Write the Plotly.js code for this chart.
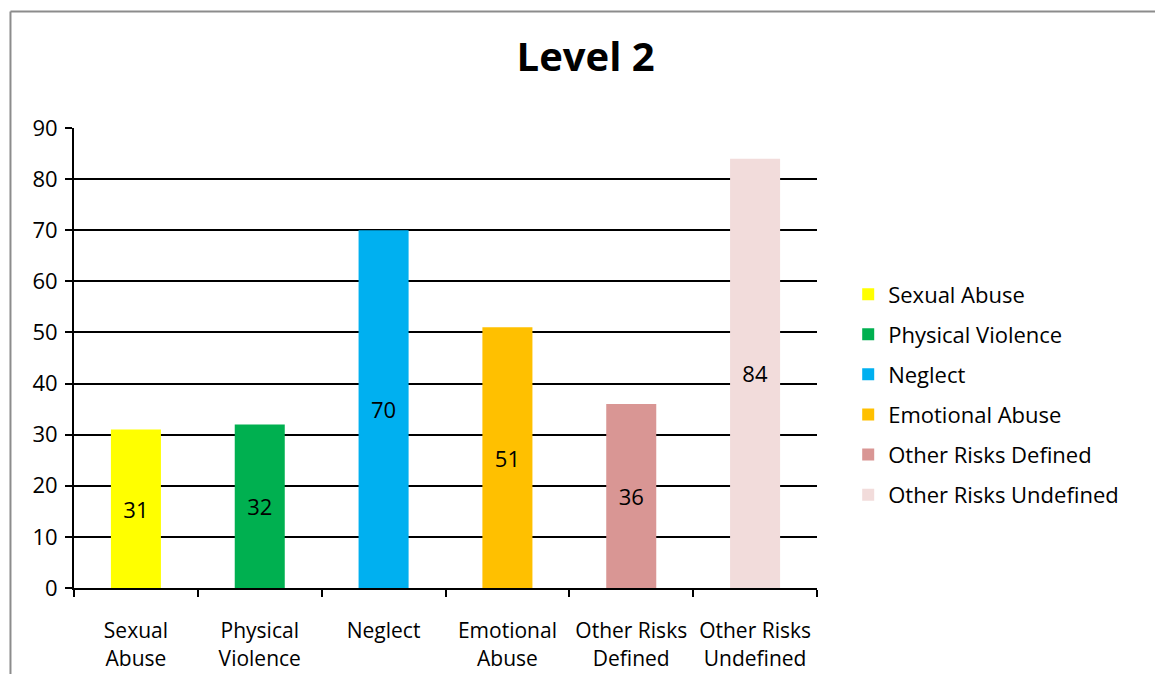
<!DOCTYPE html>
<html>
<head>
<meta charset="utf-8">
<script src="https://cdn.plot.ly/plotly-3.0.1.min.js"></script>
<style>
html,body{margin:0;padding:0;background:#fff;}
#chart{width:1155px;height:674px;}
</style>
</head>
<body>
<div id="chart"></div>
<script>
const categories = ['Sexual Abuse', 'Physical Violence', 'Neglect', 'Emotional Abuse', 'Other Risks Defined', 'Other Risks Undefined'];
const tickLabels = ['Sexual<br>Abuse', 'Physical<br>Violence', 'Neglect', 'Emotional<br>Abuse', 'Other Risks<br>Defined', 'Other Risks<br>Undefined'];
const values = [31, 32, 70, 51, 36, 84];
const colors = ['#FFFF00', '#00B050', '#00B0F0', '#FFC000', '#D99694', '#F2DCDB'];
const yTicks = [0, 10, 20, 30, 40, 50, 60, 70, 80, 90];

const FONT = 'Open Sans, Noto Sans, sans-serif';

const traces = categories.map((c, i) => ({
  type: 'bar',
  name: c,
  legendgroup: 'g' + i,
  x: [c],
  y: [values[i]],
  marker: {color: colors[i], line: {width: 0}},
  text: [String(values[i])],
  textposition: 'inside',
  insidetextanchor: 'middle',
  textangle: 0,
  constraintext: 'none',
  textfont: {family: FONT, size: 22, color: '#000'},
  hoverinfo: 'skip'
}));

const layout = {
  width: 1155,
  height: 674,
  paper_bgcolor: '#fff',
  plot_bgcolor: '#fff',
  margin: {l: 74, r: 338, t: 128, b: 86, pad: 0},
  barmode: 'overlay',
  bargap: 0.596,
  font: {family: FONT, size: 22, color: '#000'},
  title: {
    text: '<b>Level 2</b>',
    font: {family: FONT, size: 40, color: '#000'},
    x: 0.507, xanchor: 'center',
    y: 0.915, yanchor: 'middle'
  },
  showlegend: true,
  legend: {
    x: 1.042, xanchor: 'left',
    y: 0.684, yanchor: 'top',
    traceorder: 'grouped',
    tracegroupgap: 8.5,
    font: {family: FONT, size: 22, color: '#000'},
    bgcolor: 'rgba(0,0,0,0)'
  },
  xaxis: {
    type: 'category',
    categoryorder: 'array',
    categoryarray: categories,
    tickvals: categories,
    ticktext: tickLabels,
    tickangle: 0,
    automargin: false,
    showline: true, linecolor: '#000', linewidth: 2,
    ticks: 'outside', tickson: 'boundaries', ticklen: 7, tickwidth: 2, tickcolor: '#000',
    ticklabelstandoff: 23,
    tickfont: {family: FONT, size: 21, color: '#000'},
    showgrid: false,
    zeroline: false,
    fixedrange: true
  },
  yaxis: {
    range: [0, 90],
    tickvals: yTicks,
    showline: true, linecolor: '#000', linewidth: 2,
    ticks: 'outside', ticklen: 7, tickwidth: 2, tickcolor: '#000',
    ticklabelstandoff: 3,
    tickfont: {family: FONT, size: 22, color: '#000'},
    showgrid: true, gridcolor: '#000', gridwidth: 2,
    zeroline: false,
    fixedrange: true
  },
  shapes: [
    {type: 'line', xref: 'paper', yref: 'paper', x0: -0.0855, x1: -0.0855, y0: -0.3, y1: 1.2533,
     line: {color: '#8c8c8c', width: 2}},
    {type: 'line', xref: 'paper', yref: 'paper', x0: -0.0855, x1: 1.6, y0: 1.2533, y1: 1.2533,
     line: {color: '#8c8c8c', width: 2}}
  ]
};

Plotly.newPlot('chart', traces, layout, {staticPlot: true, displayModeBar: false});
</script>
</body>
</html>
